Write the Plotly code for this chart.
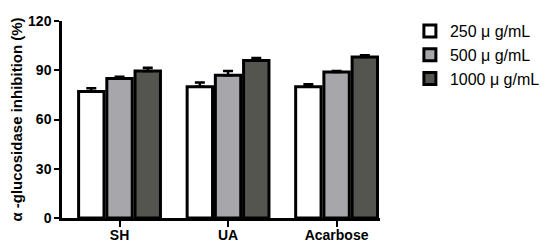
import plotly.graph_objects as go

categories = ["SH", "UA", "Acarbose"]
series_names = ["250 μ g/mL", "500 μ g/mL", "1000 μ g/mL"]
values_250 = [77, 80, 80]
values_500 = [85, 87, 89]
values_1000 = [89.5, 96, 98]
err_250 = [2, 2.5, 1.5]
err_500 = [1, 2.5, 0.5]
err_1000 = [2, 1.5, 1.2]
y_ticks = [0, 30, 60, 90, 120]

colors = ["#ffffff", "#a6a6ab", "#55554f"]
font_family = "Arial, Liberation Sans, sans-serif"

fig = go.Figure()
for name, vals, errs, col in zip(series_names,
                                 [values_250, values_500, values_1000],
                                 [err_250, err_500, err_1000], colors):
    fig.add_trace(go.Bar(
        x=categories, y=vals, name=name,
        marker=dict(color=col, line=dict(color="black", width=3)),
        error_y=dict(type="data", array=errs, arrayminus=[0] * len(errs),
                     symmetric=False, color="black", thickness=2.5, width=5),
    ))

# the page puts the figure 8px in from the top-left, margins allow for that
fig.update_layout(
    width=550, height=245,
    margin=dict(l=54, r=178, t=6, b=35),
    plot_bgcolor="white", paper_bgcolor="white",
    barmode="group", bargap=0.22, bargroupgap=0.1,
    font=dict(family=font_family, color="black"),
    showlegend=True,
    legend=dict(x=1.094, y=1.035, xanchor="left", yanchor="top",
                font=dict(size=16, family=font_family),
                tracegroupgap=0, itemwidth=30, bgcolor="rgba(0,0,0,0)"),
    xaxis=dict(range=[-0.53, 2.4], showline=True, linecolor="black", linewidth=2.5,
               ticks="outside", ticklen=6, tickwidth=2, tickcolor="black",
               automargin=False, ticklabelstandoff=-4,
               tickfont=dict(size=14, family=font_family, weight="bold")),
    yaxis=dict(range=[0, 120], tickvals=y_ticks, showline=True, linecolor="black",
               linewidth=2.5, ticks="outside", ticklen=5, tickwidth=2, tickcolor="black",
               showgrid=False, zeroline=False, automargin=False,
               ticklabeloverflow="allow",
               tickfont=dict(size=14, family=font_family, weight="bold"),
               title=dict(text="α -glucosidase inhibition (%)", standoff=10,
                          font=dict(size=15, family=font_family, weight="bold"))),
)

fig.write_html("out.html")
